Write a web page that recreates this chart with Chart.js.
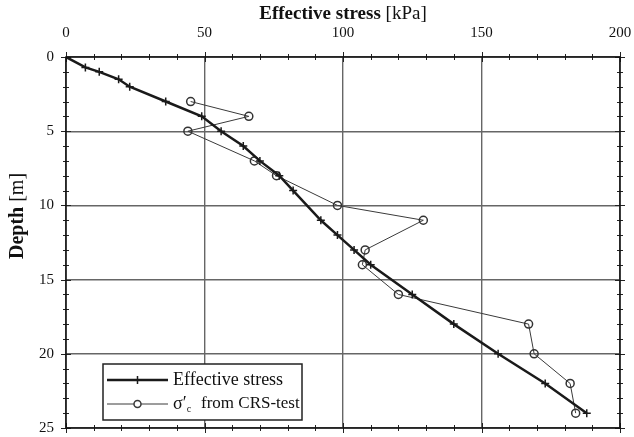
<!DOCTYPE html>
<html>
<head>
<meta charset="utf-8">
<script src="https://cdn.jsdelivr.net/npm/chart.js@4/dist/chart.umd.min.js"></script>
<style>
  html, body { margin: 0; padding: 0; background: #fff; }
  #wrap { width: 634px; height: 437px; }
</style>
</head>
<body>
<div id="wrap"><canvas id="c" width="634" height="437"></canvas></div>
<script>
// Effective stress profile (kPa vs depth in m)
const effDepth  = [0, 0.7, 1, 1.5, 2, 3, 4, 5, 6, 7, 8, 9, 11, 12, 13, 14, 16, 18, 20, 22, 24];
const effStress = [0, 7, 12, 19, 23, 36, 49, 56, 64, 70, 77, 82, 92, 98, 104, 110, 125, 140, 156, 173, 188];

// Preconsolidation pressure from CRS tests
const crsDepth  = [3, 4, 5, 7, 8, 10, 11, 13, 14, 16, 18, 20, 22, 24];
const crsStress = [45, 66, 44, 68, 76, 98, 129, 108, 107, 120, 167, 169, 182, 184];

// Axis ticks
const stressTicks = [0, 50, 100, 150, 200];
const depthTicks  = [0, 5, 10, 15, 20, 25];

const SERIF = '"Liberation Serif", "DejaVu Serif", serif';

const toPoints = (xs, ys) => xs.map((x, i) => ({ x: x, y: ys[i] }));

// Draws a title made of a bold word part followed by a regular unit part
function mixedTitle(ctx, boldPart, unitPart, size) {
  ctx.font = 'bold ' + size + 'px ' + SERIF;
  const wb = ctx.measureText(boldPart).width;
  ctx.font = size + 'px ' + SERIF;
  const wu = ctx.measureText(unitPart).width;
  const total = wb + wu;
  ctx.textAlign = 'left';
  ctx.textBaseline = 'middle';
  ctx.font = 'bold ' + size + 'px ' + SERIF;
  ctx.fillText(boldPart, -total / 2, 0);
  ctx.font = size + 'px ' + SERIF;
  ctx.fillText(unitPart, -total / 2 + wb, 0);
}

// Axis titles, minor ticks, plot frame and legend box
const decorPlugin = {
  id: 'decor',
  afterDraw(chart) {
    const { ctx, chartArea: a, scales } = chart;
    const xs = scales.x, ys = scales.y;
    ctx.save();
    ctx.fillStyle = '#111';

    // axis titles
    ctx.save();
    ctx.translate((a.left + a.right) / 2, 14);
    mixedTitle(ctx, 'Effective stress ', '[kPa]', 19);
    ctx.restore();
    ctx.save();
    ctx.translate(18, 216);
    ctx.rotate(-Math.PI / 2);
    mixedTitle(ctx, 'Depth ', '[m]', 20);
    ctx.restore();

    ctx.strokeStyle = '#222';
    ctx.lineWidth = 1;
    // minor ticks on x (every 10 kPa)
    for (let v = 0; v <= 200; v += 10) {
      const px = Math.round(xs.getPixelForValue(v)) + 0.5;
      const len = (v % 50 === 0) ? 5 : 3;
      ctx.beginPath();
      ctx.moveTo(px, a.top - len); ctx.lineTo(px, a.top + len);
      ctx.moveTo(px, a.bottom - len); ctx.lineTo(px, a.bottom + len);
      ctx.stroke();
    }
    // minor ticks on y (every 1 m)
    for (let v = 0; v <= 25; v += 1) {
      const py = Math.round(ys.getPixelForValue(v)) + 0.5;
      const len = (v % 5 === 0) ? 5 : 3;
      ctx.beginPath();
      ctx.moveTo(a.left - len, py); ctx.lineTo(a.left + len, py);
      ctx.moveTo(a.right - len, py); ctx.lineTo(a.right + len, py);
      ctx.stroke();
    }
    // frame
    ctx.lineWidth = 1.5;
    ctx.strokeStyle = '#111';
    ctx.strokeRect(a.left, a.top, a.right - a.left, a.bottom - a.top);

    // legend
    const bx = 103, by = 364, bw = 199, bh = 56;
    ctx.fillStyle = '#fff';
    ctx.fillRect(bx, by, bw, bh);
    ctx.lineWidth = 1.5;
    ctx.strokeStyle = '#222';
    ctx.strokeRect(bx, by, bw, bh);

    const ds0 = chart.data.datasets[0], ds1 = chart.data.datasets[1];
    const y1 = 380, y2 = 404, x0 = 107, x1 = 168, xm = (x0 + x1) / 2;
    // row 1
    ctx.strokeStyle = ds0.borderColor; ctx.lineWidth = ds0.borderWidth;
    ctx.beginPath(); ctx.moveTo(x0, y1); ctx.lineTo(x1, y1); ctx.stroke();
    ctx.lineWidth = 1.5;
    ctx.beginPath(); ctx.moveTo(xm - 4, y1); ctx.lineTo(xm + 4, y1);
    ctx.moveTo(xm, y1 - 4); ctx.lineTo(xm, y1 + 4); ctx.stroke();
    // row 2
    ctx.strokeStyle = ds1.borderColor; ctx.lineWidth = ds1.borderWidth;
    ctx.beginPath(); ctx.moveTo(x0, y2); ctx.lineTo(x1, y2); ctx.stroke();
    ctx.lineWidth = 1.5; ctx.fillStyle = '#fff';
    ctx.beginPath(); ctx.arc(xm, y2, 3.5, 0, Math.PI * 2); ctx.fill(); ctx.stroke();

    ctx.fillStyle = '#111';
    ctx.textBaseline = 'middle';
    ctx.textAlign = 'left';
    ctx.font = '18px ' + SERIF;
    ctx.fillText('Effective stress', 173, y1);
    ctx.fillText('\u03c3\u2032', 173, y2);
    const w = ctx.measureText('\u03c3\u2032').width;
    ctx.font = '10px ' + SERIF;
    ctx.fillText('c', 173 + w, y2 + 5);
    ctx.font = '17px ' + SERIF;
    ctx.fillText('from CRS-test', 201, y2);
    ctx.restore();
  }
};

// Scale boxes are sized by hand so that the plot area sits at a fixed place
function zeroPadding(s) {
  s.paddingLeft = 0; s.paddingRight = 0; s.paddingTop = 0; s.paddingBottom = 0;
}

new Chart(document.getElementById('c'), {
  type: 'line',
  data: {
    datasets: [
      {
        label: 'Effective stress',
        data: toPoints(effStress, effDepth),
        borderColor: '#1a1a1a',
        borderWidth: 2.5,
        pointStyle: 'cross',
        pointRadius: 4,
        pointBorderWidth: 1.5,
        pointBorderColor: '#1a1a1a',
        fill: false,
        tension: 0
      },
      {
        label: "\u03c3'c from CRS-test",
        data: toPoints(crsStress, crsDepth),
        borderColor: '#3a3a3a',
        borderWidth: 1,
        pointStyle: 'circle',
        pointRadius: 4,
        pointBorderWidth: 1.5,
        pointBorderColor: '#333',
        pointBackgroundColor: 'rgba(255,255,255,0)',
        fill: false,
        tension: 0
      }
    ]
  },
  options: {
    responsive: false,
    animation: false,
    events: [],
    layout: { padding: { left: 0, right: 14, top: 0, bottom: 9 } },
    plugins: { legend: { display: false }, tooltip: { enabled: false } },
    scales: {
      x: {
        type: 'linear',
        position: 'top',
        min: 0, max: 200,
        afterBuildTicks(s) { s.ticks = stressTicks.map(v => ({ value: v })); },
        afterFit(s) { s.height = 57; zeroPadding(s); },
        grid: { color: '#666', lineWidth: 1.4, drawTicks: false },
        border: { display: false },
        ticks: { color: '#111', padding: 15, maxRotation: 0, font: { family: SERIF, size: 15 } },
        title: { display: false }
      },
      y: {
        type: 'linear',
        reverse: true,
        min: 0, max: 25,
        afterBuildTicks(s) { s.ticks = depthTicks.map(v => ({ value: v })); },
        afterFit(s) { s.width = 66; zeroPadding(s); },
        grid: { color: '#666', lineWidth: 1.4, drawTicks: false },
        border: { display: false },
        ticks: { color: '#111', padding: 12, font: { family: SERIF, size: 15 } },
        title: { display: false }
      }
    }
  },
  plugins: [decorPlugin]
});
</script>
</body>
</html>
